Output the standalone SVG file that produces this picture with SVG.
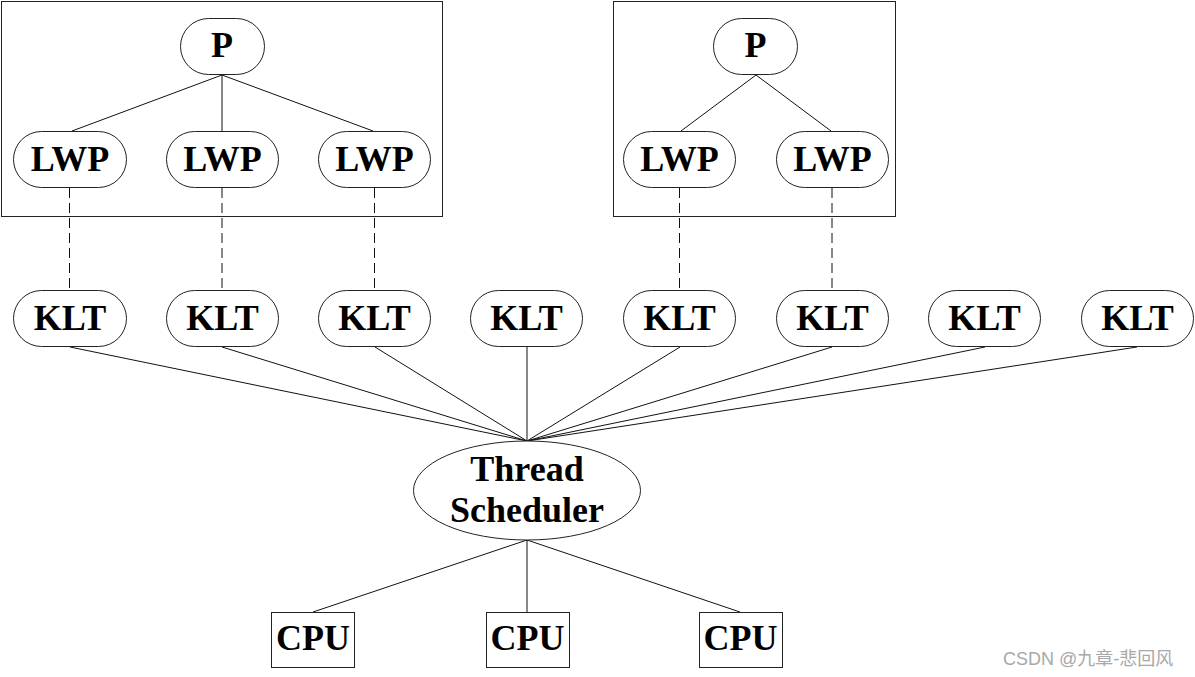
<svg xmlns="http://www.w3.org/2000/svg" width="1195" height="677" viewBox="0 0 1195 677">
<style>
.frame{fill:none;stroke:#222;stroke-width:1}
.pill{fill:#fff;stroke:#222;stroke-width:1}
.box{fill:#fff;stroke:#222;stroke-width:1}
.t{font-family:"Liberation Serif","Times New Roman",serif;font-weight:bold;font-size:36px;text-anchor:middle;fill:#000}
.ln{stroke:#111;stroke-width:1;fill:none}
.dash{stroke:#111;stroke-width:1;stroke-dasharray:10,5;fill:none}
.wm{font-family:"Liberation Sans","Noto Sans CJK SC",sans-serif;font-size:18px;fill:#a8a8a8}
</style>
<rect width="1195" height="677" fill="#fff"/>
<rect class="frame" x="1.5" y="1.5" width="441" height="215"/>
<rect class="frame" x="613.5" y="1.5" width="282" height="215"/>
<g id="connectors">
<line class="ln" x1="222" y1="75" x2="72" y2="131"/>
<line class="ln" x1="222" y1="75" x2="222" y2="131"/>
<line class="ln" x1="222" y1="75" x2="373" y2="131"/>
<line class="ln" x1="756" y1="75" x2="681" y2="131"/>
<line class="ln" x1="756" y1="75" x2="831" y2="131"/>
<line class="dash" x1="69.5" y1="188" x2="69.5" y2="290"/>
<line class="dash" x1="222" y1="188" x2="222" y2="290"/>
<line class="dash" x1="374.5" y1="188" x2="374.5" y2="290"/>
<line class="dash" x1="679.5" y1="188" x2="679.5" y2="290"/>
<line class="dash" x1="832" y1="188" x2="832" y2="290"/>
<line class="ln" x1="70" y1="347" x2="527" y2="441"/>
<line class="ln" x1="222" y1="347" x2="527" y2="441"/>
<line class="ln" x1="375" y1="347" x2="527" y2="441"/>
<line class="ln" x1="527" y1="347" x2="527" y2="441"/>
<line class="ln" x1="680" y1="347" x2="527" y2="441"/>
<line class="ln" x1="832" y1="347" x2="527" y2="441"/>
<line class="ln" x1="985" y1="347" x2="527" y2="441"/>
<line class="ln" x1="1137" y1="347" x2="527" y2="441"/>
<line class="ln" x1="527" y1="540" x2="313" y2="612"/>
<line class="ln" x1="527" y1="540" x2="527" y2="612"/>
<line class="ln" x1="527" y1="540" x2="740" y2="612"/>
</g>
<g id="p1"><rect class="pill" x="180.5" y="18.5" width="84" height="56" rx="28"/><text class="t" x="222" y="57">P</text></g>
<g id="p2"><rect class="pill" x="713.5" y="18.5" width="84" height="56" rx="28"/><text class="t" x="755.5" y="57">P</text></g>
<g id="lwp1"><rect class="pill" x="13.5" y="131.5" width="113" height="56" rx="28"/><text class="t" x="70" y="171">LWP</text></g>
<g id="lwp2"><rect class="pill" x="166.5" y="131.5" width="112" height="56" rx="28"/><text class="t" x="222.5" y="171">LWP</text></g>
<g id="lwp3"><rect class="pill" x="318.5" y="131.5" width="112" height="56" rx="28"/><text class="t" x="374.5" y="171">LWP</text></g>
<g id="lwp4"><rect class="pill" x="623.5" y="131.5" width="112" height="56" rx="28"/><text class="t" x="679.5" y="171">LWP</text></g>
<g id="lwp5"><rect class="pill" x="776.5" y="131.5" width="112" height="56" rx="28"/><text class="t" x="832.5" y="171">LWP</text></g>
<g id="klt1"><rect class="pill" x="13.5" y="290.5" width="113" height="56" rx="28"/><text class="t" x="70" y="330">KLT</text></g>
<g id="klt2"><rect class="pill" x="166.5" y="290.5" width="112" height="56" rx="28"/><text class="t" x="222.5" y="330">KLT</text></g>
<g id="klt3"><rect class="pill" x="318.5" y="290.5" width="112" height="56" rx="28"/><text class="t" x="374.5" y="330">KLT</text></g>
<g id="klt4"><rect class="pill" x="470.5" y="290.5" width="112" height="56" rx="28"/><text class="t" x="526.5" y="330">KLT</text></g>
<g id="klt5"><rect class="pill" x="623.5" y="290.5" width="112" height="56" rx="28"/><text class="t" x="679.5" y="330">KLT</text></g>
<g id="klt6"><rect class="pill" x="776.5" y="290.5" width="112" height="56" rx="28"/><text class="t" x="832.5" y="330">KLT</text></g>
<g id="klt7"><rect class="pill" x="928.5" y="290.5" width="112" height="56" rx="28"/><text class="t" x="984.5" y="330">KLT</text></g>
<g id="klt8"><rect class="pill" x="1081.5" y="290.5" width="112" height="56" rx="28"/><text class="t" x="1137.5" y="330">KLT</text></g>
<g id="scheduler"><ellipse class="pill" cx="527" cy="490.5" rx="113.5" ry="49.5"/><text class="t" x="527" y="481">Thread</text><text class="t" x="527" y="522">Scheduler</text></g>
<g id="cpu1"><rect class="box" x="271.5" y="612.5" width="83" height="55"/><text class="t" x="313" y="650">CPU</text></g>
<g id="cpu2"><rect class="box" x="486.5" y="612.5" width="83" height="55"/><text class="t" x="527.5" y="650">CPU</text></g>
<g id="cpu3"><rect class="box" x="699.5" y="612.5" width="83" height="55"/><text class="t" x="740.5" y="650">CPU</text></g>
<text class="wm" x="1003" y="665">CSDN @九章-悲回风</text>
</svg>
